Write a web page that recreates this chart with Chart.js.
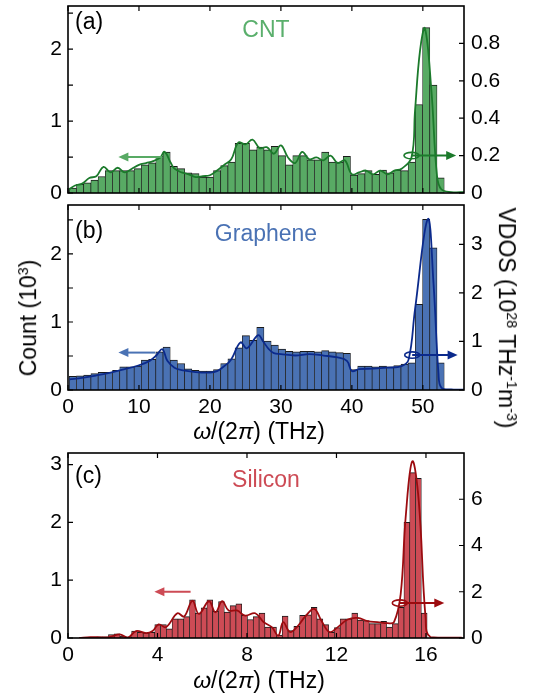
<!DOCTYPE html>
<html>
<head>
<meta charset="utf-8">
<script src="https://cdn.jsdelivr.net/npm/chart.js@4.4.1/dist/chart.umd.min.js"></script>
<style>
  body { margin: 0; background: #fff; width: 536px; height: 694px; position: relative; overflow: hidden;
         font-family: "Liberation Sans", Arial, sans-serif; }
  canvas { position: absolute; left: 0; }
  .lbl { position: absolute; font-size: 23px; line-height: 1; white-space: nowrap; color: #000; }
  .lbl sup { font-size: 0.62em; vertical-align: 0.55em; }
</style>
</head>
<body>
<canvas id="cnt" width="536" height="200" style="top:0"></canvas>
<canvas id="graphene" width="536" height="240" style="top:200px"></canvas>
<canvas id="silicon" width="536" height="254" style="top:440px"></canvas>

<div class="lbl" style="left:75px;top:21px;transform:translateY(-50%)">(a)</div>
<div class="lbl" style="left:75px;top:230px;transform:translateY(-50%)">(b)</div>
<div class="lbl" style="left:75px;top:475px;transform:translateY(-50%)">(c)</div>
<div class="lbl" style="left:266px;top:29px;transform:translate(-50%,-50%);color:#5aaf6c">CNT</div>
<div class="lbl" style="left:266px;top:233px;transform:translate(-50%,-50%);color:#4a72b4">Graphene</div>
<div class="lbl" style="left:266px;top:479px;transform:translate(-50%,-50%);color:#cd4b55">Silicon</div>
<div class="lbl" style="left:28px;top:318px;transform:translate(-50%,-50%) rotate(-90deg)">Count (10<sup>3</sup>)</div>
<div class="lbl" style="left:507px;top:318px;transform:translate(-50%,-50%) rotate(90deg)">VDOS (10<sup>28</sup> THz<sup>-1</sup>m<sup>-3</sup>)</div>
<div class="lbl" style="left:259px;top:431px;transform:translate(-50%,-50%)"><i>ω</i>/(2<i>π</i>) (THz)</div>
<div class="lbl" style="left:259px;top:680px;transform:translate(-50%,-50%)"><i>ω</i>/(2<i>π</i>) (THz)</div>

<script>
// ---- data ----
// histogram bins (THz): first bin edge and bin width
const cntStart = 0.18, cntWidth = 1.016;
const cntCounts = [0.07,0.12,0.14,0.18,0.23,0.31,0.31,0.31,0.31,0.34,
                   0.39,0.42,0.51,0.57,0.37,0.34,0.28,0.27,0.22,0.22,
                   0.31,0.38,0.43,0.69,0.69,0.60,0.64,0.60,0.65,0.52,
                   0.39,0.52,0.52,0.46,0.46,0.57,0.43,0.43,0.51,0.25,
                   0.27,0.31,0.26,0.32,0.28,0.32,0.31,0.43,1.23,2.30,
                   1.50,0.21];
// VDOS curve: [THz, 1e28 THz^-1 m^-3]
const cntVdos = [[0.2,0.02],[1,0.04],[2,0.05],[3,0.08],[4,0.09],[5,0.14],[6,0.11],[7,0.135],
                 [8,0.11],[9,0.13],[10,0.15],[11,0.16],[12,0.17],[13,0.19],[13.6,0.22],[14.5,0.16],
                 [15,0.13],[16,0.11],[17,0.10],[18,0.085],[19,0.09],[20,0.095],[21,0.12],[22,0.15],
                 [23,0.18],[24,0.27],[25,0.26],[26,0.285],[27,0.24],[28,0.245],[29,0.21],[30,0.255],
                 [31,0.19],[32,0.16],[33,0.22],[34,0.18],[35,0.19],[36,0.175],[37,0.20],[38,0.16],
                 [39,0.175],[40,0.10],[41,0.11],[42,0.12],[43,0.10],[44,0.12],[45,0.10],[46,0.12],
                 [47,0.13],[48.4,0.19],[48.9,0.44],[49.6,0.76],[50.3,0.88],[51.2,0.55],[52,0.09],
                 [52.6,0.02],[54,0.005],[56,0.005]];

const grapheneStart = 0.18, grapheneWidth = 1.016;
const grapheneCounts = [0.20,0.21,0.22,0.24,0.26,0.26,0.29,0.34,0.34,0.35,
                        0.44,0.45,0.56,0.63,0.44,0.39,0.31,0.29,0.28,0.28,
                        0.30,0.39,0.46,0.62,0.80,0.73,0.92,0.72,0.66,0.60,
                        0.57,0.56,0.57,0.57,0.56,0.58,0.56,0.55,0.54,0.30,
                        0.35,0.35,0.34,0.35,0.34,0.36,0.38,0.40,1.26,2.51,
                        2.09,0.40];
const grapheneVdos = [[0.2,0.22],[2,0.25],[4,0.30],[6,0.36],[8,0.43],[10,0.51],[11.5,0.60],[12.5,0.72],
                      [13.3,0.84],[14,0.60],[15,0.46],[16,0.41],[18,0.37],[20,0.36],[21,0.39],[22,0.49],
                      [23,0.63],[24.3,0.98],[25.2,0.86],[26.8,1.13],[27.5,1.00],[28.3,0.84],[29,0.76],
                      [30,0.74],[32,0.71],[34,0.74],[36,0.71],[38,0.67],[39.3,0.60],[40,0.39],[41,0.43],
                      [43,0.44],[45,0.46],[47,0.49],[48,0.63],[48.9,1.66],[50.7,3.52],[51.5,2.20],
                      [52.2,0.35],[52.6,0.05],[54,0.01],[56,0.01]];

const siliconStart = 1.03, siliconWidth = 0.259;
const siliconCounts = [0.01,0.02,0.02,
                       0.06,0.07,0.03,0.02,0.12,0.10,0.09,0.10,0.23,0.23,
                       0.16,0.33,0.33,0.37,0.66,0.43,0.52,0.66,0.46,0.63,
                       0.45,0.56,0.59,0.39,0.32,0.37,0.43,0.19,0.19,0.05,
                       0.38,0.13,0.20,0.39,0.40,0.53,0.33,0.23,0.10,0.18,
                       0.33,0.33,0.43,0.31,0.30,0.25,0.25,0.29,0.19,0.25,
                       0.53,2.00,2.86,2.76,0.43];
const siliconVdos = [[0.5,0.0],[1.0,0.04],[1.5,0.03],[1.86,0.04],[2.31,0.16],[2.68,0.02],[3.04,0.30],
                     [3.49,0.21],[3.78,0.30],[4.05,0.59],[4.38,0.47],[4.89,1.07],[5.19,0.93],[5.56,1.61],
                     [5.85,1.04],[6.3,1.59],[6.59,1.11],[6.89,1.59],[7.18,1.19],[7.55,1.19],[7.92,0.97],
                     [8.37,1.07],[8.74,0.69],[9.11,0.47],[9.4,0.11],[9.62,0.69],[9.92,0.26],[10.29,0.54],
                     [10.58,0.90],[11.0,1.26],[11.32,0.76],[11.69,0.26],[12.06,0.47],[12.5,0.80],
                     [12.95,0.87],[13.39,0.73],[13.83,0.69],[14.28,0.64],[14.57,0.69],[14.87,1.90],
                     [15.09,5.19],[15.39,7.64],[15.68,5.90],[15.98,0.90],[16.2,0.04],[17.6,0.01]];

// tick labels
const freqTicks = [0, 10, 20, 30, 40, 50];
const siFreqTicks = [0, 4, 8, 12, 16];
const countTicks = [0, 0.5, 1, 1.5, 2, 2.5];
const siCountTicks = [0, 1, 2, 3];
const cntVdosTicks = [0, 0.2, 0.4, 0.6, 0.8];
const grapheneVdosTicks = [0, 1, 2, 3];
const siliconVdosTicks = [0, 2, 4, 6];

Chart.defaults.font.family = '"Liberation Sans", Arial, sans-serif';
Chart.defaults.font.size = 21;
Chart.defaults.color = '#000';

// frame, inward ticks and the arrow markers
const framePlugin = {
  id: 'frame',
  afterDatasetsDraw(chart, args, opts) {
    const { ctx, chartArea: a, scales } = chart;
    ctx.save();
    ctx.strokeStyle = '#000';
    ctx.lineWidth = 1.2;
    const L = 5;
    ctx.beginPath();
    scales.x.ticks.forEach(t => {
      const px = scales.x.getPixelForValue(t.value);
      ctx.moveTo(px, a.bottom); ctx.lineTo(px, a.bottom - L);
      ctx.moveTo(px, a.top); ctx.lineTo(px, a.top + L);
    });
    scales.y.ticks.forEach(t => {
      const py = scales.y.getPixelForValue(t.value);
      ctx.moveTo(a.left, py); ctx.lineTo(a.left + L, py);
    });
    scales.y2.ticks.forEach(t => {
      const py = scales.y2.getPixelForValue(t.value);
      ctx.moveTo(a.right, py); ctx.lineTo(a.right - L, py);
    });
    ctx.stroke();
    ctx.lineWidth = 1.6;
    ctx.strokeRect(a.left, a.top, a.width, a.height);

    (opts.arrows || []).forEach(ar => {
      const ys = scales[ar.axis];
      const x1 = scales.x.getPixelForValue(ar.from);
      const x2 = scales.x.getPixelForValue(ar.to);
      const y = ys.getPixelForValue(ar.at);
      const dir = Math.sign(x2 - x1);
      ctx.strokeStyle = ar.color;
      ctx.fillStyle = ar.color;
      ctx.lineWidth = 2;
      ctx.beginPath();
      ctx.moveTo(x1, y); ctx.lineTo(x2 - dir * 8, y);
      ctx.stroke();
      ctx.beginPath();
      ctx.moveTo(x2, y);
      ctx.lineTo(x2 - dir * 10, y - 4.5);
      ctx.lineTo(x2 - dir * 10, y + 4.5);
      ctx.closePath();
      ctx.fill();
      if (ar.ellipse) {
        ctx.lineWidth = 1.6;
        ctx.beginPath();
        ctx.ellipse(x1, y, 7.5, 3.2, 0, 0, Math.PI * 2);
        ctx.stroke();
      }
    });
    ctx.restore();
  }
};

function fixed(ticks) {
  return scale => { scale.ticks = ticks.map(v => ({ value: v })); };
}

// pin an axis box to a fixed size and drop the label overhang padding
function pin(prop, size) {
  return s => {
    s[prop] = size;
    s.paddingTop = 0; s.paddingBottom = 0; s.paddingLeft = 0; s.paddingRight = 0;
  };
}

function makeChart(id, p) {
  const bars = p.counts.map((c, i) => ({ x: p.start + p.width * (i + 0.5), y: c }));
  const curve = p.vdos.map(d => ({ x: d[0], y: d[1] }));
  return new Chart(document.getElementById(id), {
    type: 'bar',
    data: {
      datasets: [
        { type: 'line', data: curve, yAxisID: 'y2', borderColor: p.lineColor, borderWidth: 1.8,
          pointRadius: 0, tension: 0.4, order: 1 },
        { type: 'bar', data: bars, yAxisID: 'y', backgroundColor: p.barColor, borderColor: '#1a1a1a',
          borderWidth: { top: 1, left: 0.7, right: 0.7, bottom: 0 }, borderSkipped: false,
          barPercentage: 1, categoryPercentage: 1, order: 2 }
      ]
    },
    plugins: [framePlugin],
    options: {
      responsive: false,
      animation: false,
      layout: { padding: { top: p.top, left: 0, right: 0, bottom: 0 } },
      plugins: {
        legend: { display: false },
        tooltip: { enabled: false },
        frame: { arrows: p.arrows }
      },
      scales: {
        x: {
          type: 'linear', min: 0, max: p.xMax, offset: false,
          afterBuildTicks: fixed(p.xTicks),
          afterFit: pin('height', p.xAxisHeight),
          grid: { display: false, drawTicks: false },
          border: { display: false },
          ticks: { display: p.xLabels, padding: 5, maxRotation: 0, autoSkip: false }
        },
        y: {
          position: 'left', min: 0, max: p.yMax,
          afterBuildTicks: fixed(p.yTicks),
          afterFit: pin('width', 68),
          grid: { display: false, drawTicks: false },
          border: { display: false },
          ticks: { padding: 6, callback: v => (Number.isInteger(v) ? String(v) : '') }
        },
        y2: {
          position: 'right', min: 0, max: p.y2Max,
          afterBuildTicks: fixed(p.y2Ticks),
          afterFit: pin('width', 72),
          grid: { display: false, drawTicks: false },
          border: { display: false },
          ticks: { padding: 7, callback: v => String(v) }
        }
      }
    }
  });
}

makeChart('cnt', {
  counts: cntCounts, vdos: cntVdos, start: cntStart, width: cntWidth,
  barColor: '#58aa64', lineColor: '#1b7a2b',
  top: 6, xAxisHeight: 7, xLabels: false,
  xMax: 55.8, xTicks: freqTicks, yMax: 2.6, yTicks: countTicks, y2Max: 1.0, y2Ticks: cntVdosTicks,
  arrows: [
    { axis: 'y', from: 13.3, to: 7.1, at: 0.5, color: '#58aa64' },
    { axis: 'y2', from: 48.4, to: 54.7, at: 0.2, color: '#1b7a2b', ellipse: true }
  ]
});

makeChart('graphene', {
  counts: grapheneCounts, vdos: grapheneVdos, start: grapheneStart, width: grapheneWidth,
  barColor: '#4a72b4', lineColor: '#0b2a8c',
  top: 5, xAxisHeight: 50, xLabels: true,
  xMax: 55.8, xTicks: freqTicks, yMax: 2.72, yTicks: countTicks, y2Max: 3.81, y2Ticks: grapheneVdosTicks,
  arrows: [
    { axis: 'y', from: 12.3, to: 7.1, at: 0.55, color: '#4a72b4' },
    { axis: 'y2', from: 48.5, to: 54.9, at: 0.72, color: '#0b2a8c', ellipse: true }
  ]
});

makeChart('silicon', {
  counts: siliconCounts, vdos: siliconVdos, start: siliconStart, width: siliconWidth,
  barColor: '#cd4b55', lineColor: '#9c0b0f',
  top: 13, xAxisHeight: 56, xLabels: true,
  xMax: 17.7, xTicks: siFreqTicks, yMax: 3.2, yTicks: siCountTicks, y2Max: 8.0, y2Ticks: siliconVdosTicks,
  arrows: [
    { axis: 'y', from: 5.48, to: 3.86, at: 0.8, color: '#cd4b55' },
    { axis: 'y2', from: 14.83, to: 16.82, at: 1.51, color: '#9c0b0f', ellipse: true }
  ]
});
</script>
</body>
</html>
